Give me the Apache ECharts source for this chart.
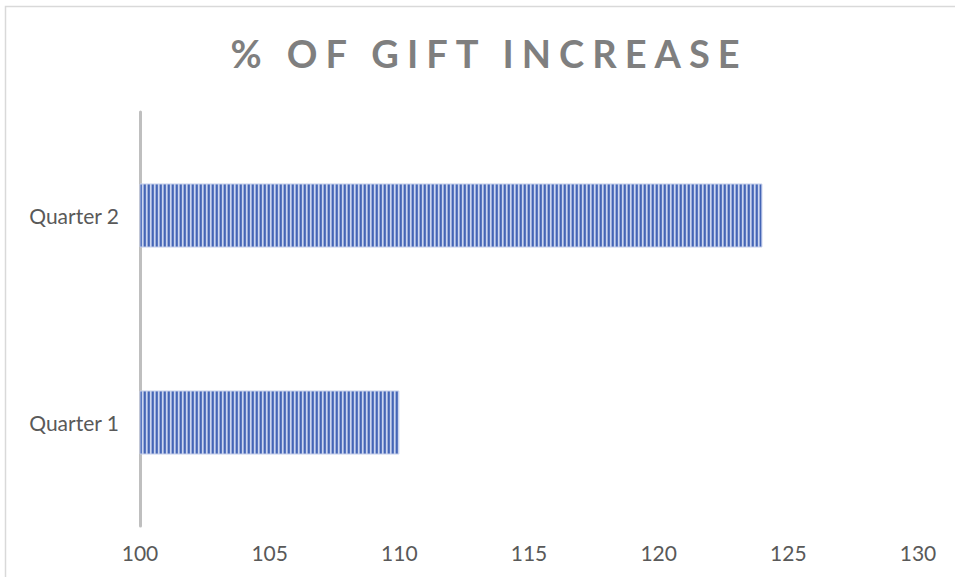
<!DOCTYPE html>
<html>
<head>
<meta charset="utf-8">
<title>% of Gift Increase</title>
<script src="https://cdn.jsdelivr.net/npm/echarts@6/dist/echarts.min.js"></script>
<style>
  html, body { margin: 0; padding: 0; background: #ffffff; }
  #chart { width: 955px; height: 577px; }
</style>
</head>
<body>
<div id="chart"></div>
<script>
// Chart data
const titleText = '% OF GIFT INCREASE';
const categories = ['Quarter 1', 'Quarter 2'];
const values = [110, 124];
const axisMin = 100;
const axisMax = 130;
const axisStep = 5;

// Narrow vertical stripe fill for the bars
function stripePattern() {
  const c = document.createElement('canvas');
  c.width = 4;
  c.height = 4;
  const ctx = c.getContext('2d');
  const cols = ['#4465b5', '#5b78c0', '#ccd6ee', '#9aacdc'];
  for (let i = 0; i < 4; i++) {
    ctx.fillStyle = cols[i];
    ctx.fillRect(i, 0, 1, 4);
  }
  return c;
}

const chart = echarts.init(document.getElementById('chart'), null, { renderer: 'svg' });

const labelFont = 'Lato, "Open Sans", sans-serif';

chart.setOption({
  animation: false,
  backgroundColor: '#ffffff',
  graphic: [
    {
      // chart frame: only the top and left edges fall inside the page
      type: 'polyline',
      silent: true,
      shape: { points: [[5.5, 2000], [5.5, 6.5], [2000, 6.5]] },
      style: { fill: 'none', stroke: '#d9d9d9', lineWidth: 1.5 }
    },
    {
      type: 'text',
      id: 'chartTitle',
      x: 489,
      y: 53,
      silent: true,
      style: {
        text: titleText,
        fill: '#7f7f7f',
        fontFamily: labelFont,
        fontWeight: 'bold',
        fontSize: 38,
        textAlign: 'center',
        textVerticalAlign: 'middle'
      }
    }
  ],
  grid: { left: 140, right: 37, top: 112, bottom: 51, containLabel: false },
  xAxis: {
    type: 'value',
    min: axisMin,
    max: axisMax,
    interval: axisStep,
    axisLine: { show: false },
    axisTick: { show: false },
    splitLine: { show: false },
    axisLabel: {
      color: '#595959',
      fontSize: 21,
      fontFamily: labelFont,
      margin: 16
    }
  },
  yAxis: {
    type: 'category',
    data: categories,
    axisLine: { show: true, lineStyle: { color: '#bfbfbf', width: 3 } },
    axisTick: { show: false },
    axisLabel: {
      color: '#595959',
      fontSize: 21,
      fontFamily: labelFont,
      margin: 21
    }
  },
  series: [
    {
      type: 'bar',
      data: values,
      barWidth: 64,
      itemStyle: {
        color: { image: stripePattern(), repeat: 'repeat' },
        borderColor: '#c3cdea',
        borderWidth: 1
      }
    }
  ]
});

// Spread the title letters apart
document.querySelectorAll('#chart svg text').forEach(function (t) {
  if (t.textContent === titleText) {
    t.setAttribute('letter-spacing', '8px');
  }
});
</script>
</body>
</html>
